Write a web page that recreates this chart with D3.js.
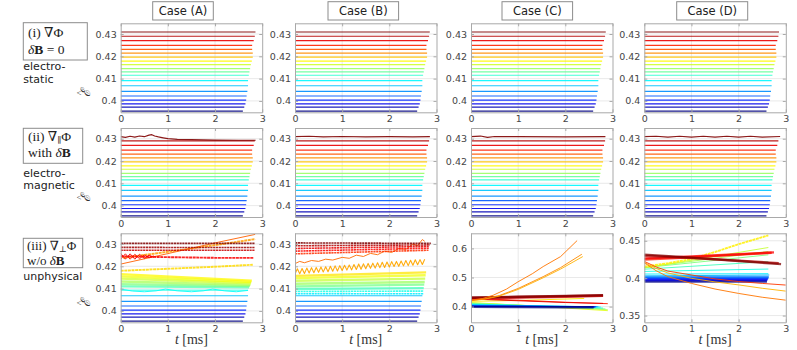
<!DOCTYPE html>
<html><head><meta charset="utf-8">
<script src="https://cdn.jsdelivr.net/npm/d3@7"></script>
<style>body{margin:0;background:#fff}svg{display:block}</style>
</head><body>
<svg id="c" width="797" height="350"></svg>
<script>
// ---------------- DATA ----------------
const caseLabels = ["Case (A)", "Case (B)", "Case (C)", "Case (D)"];
const rowNotes = [["electro-", "static"], ["electro-", "magnetic"], ["unphysical"]];
const tTicks = [0, 1, 2, 3];
const yTicksAB = [0.40, 0.41, 0.42, 0.43];
const yTicksC = [0.4, 0.5, 0.6];
const yTicksD = [0.35, 0.4, 0.45];
const yDomAB = [0.3949, 0.4348];
const yDomC = [0.346, 0.652];
const yDomD = [0.341, 0.46];

// rows (i),(ii): flat energy levels (bottom -> top) and their end times
const levelE = [0.3954,0.3972,0.3987,0.4004,0.4022,0.4043,0.4068,0.4091,0.4115,0.4130,
                0.4145,0.4163,0.4178,0.4196,0.4214,0.4231,0.4249,0.4270,0.4290,0.4309];
const levelTEnd = [2.59,2.62,2.645,2.66,2.67,2.686,2.70,2.70,2.716,2.73,
                   2.744,2.76,2.78,2.80,2.80,2.787,2.787,2.82,2.843,2.857];

// row (ii): top level is noisy
const r2Top = [
  [[0,0.4309],[0.1,0.4306],[0.2,0.4311],[0.3,0.4307],[0.4,0.4312],[0.5,0.4309],[0.6,0.4316],[0.66,0.4318],[0.72,0.4312],[0.8,0.4308],[0.9,0.4304],[1.0,0.4300],[1.2,0.4297],[1.5,0.4296],[2.0,0.4294],[2.5,0.4293],[2.86,0.4293]],
  [[0,0.4309],[0.3,0.4311],[0.6,0.4308],[1,0.4310],[1.5,0.4308],[2,0.4309],[2.5,0.4308],[2.86,0.4309]],
  [[0,0.4309],[0.2,0.4312],[0.35,0.4306],[0.5,0.4310],[1,0.4309],[2,0.4308],[2.85,0.4309]],
  [[0,0.4309],[0.25,0.4311],[0.5,0.4307],[0.75,0.4311],[1,0.4307],[1.25,0.4311],[1.5,0.4307],[1.75,0.4311],[2,0.4307],[2.25,0.4311],[2.5,0.4307],[2.88,0.4310]]
];

// row (iii), case B: strongly oscillating orange line, sampled every 0.05 ms
const zigB_t0 = 0, zigB_dt = 0.05;
const zigB_E = [0.4165,0.4189,0.4167,0.4190,0.4168,0.4192,0.4170,0.4194,0.4171,0.4195,0.4173,0.4197,0.4175,0.4198,
  0.4176,0.4200,0.4178,0.4202,0.4179,0.4203,0.4181,0.4205,0.4183,0.4206,0.4184,0.4208,0.4186,0.4210,0.4187,0.4211,
  0.4189,0.4213,0.4191,0.4214,0.4192,0.4216,0.4194,0.4218,0.4195,0.4219,0.4197,0.4221,0.4199,0.4222,0.4200,0.4224,
  0.4202,0.4226,0.4203,0.4227,0.4205,0.4229,0.4207,0.4230,0.4208,0.4232];

// row (iii) curves: kind, colormap rank (initial energy rank), points [t, E]
const r3A = [
  {k:"line", rank:0.40, pts:[[0,0.4093],[2.7,0.4093]]},
  {k:"line", rank:0.38, pts:[[0,0.4098],[0.25,0.4089],[0.5,0.4086],[0.75,0.4090],[0.95,0.4098],[1.2,0.4090],[1.5,0.4086],[1.75,0.4090],[1.95,0.4098],[2.2,0.4090],[2.45,0.4086],[2.7,0.4092]]},
  {k:"band", rank:0.45, pts:[[0,0.4110],[2.72,0.4106]]},
  {k:"band", rank:0.50, pts:[[0,0.4120],[2.74,0.4111]]},
  {k:"band", rank:0.54, pts:[[0,0.4132],[2.75,0.4117]]},
  {k:"band", rank:0.58, pts:[[0,0.4145],[2.76,0.4124]]},
  {k:"band", rank:0.61, pts:[[0,0.4155],[2.77,0.4130]]},
  {k:"band", rank:0.63, pts:[[0,0.4165],[2.78,0.4136]]},
  {k:"zig",  rank:0.66, pts:[[0,0.4180],[1,0.4189],[2,0.4198],[2.8,0.4207]]},
  {k:"zig",  rank:0.72, pts:[[0.05,0.4238],[1,0.4265],[2,0.4295],[2.85,0.4322]]},
  {k:"line", rank:0.78, pts:[[0,0.4210],[1,0.4257],[2,0.4305],[2.85,0.4343]]},
  {k:"line", rank:0.88, pts:[[0,0.4258],[0.1,0.4232],[0.2,0.4256],[0.3,0.4232],[0.4,0.4254],[0.5,0.4235],[0.6,0.4250],[0.7,0.4240]]},
  {k:"line", rank:0.86, pts:[[0,0.4232],[0.1,0.4256],[0.2,0.4232],[0.3,0.4254],[0.4,0.4234],[0.5,0.4251],[0.6,0.4238],[0.7,0.4247]]},
  {k:"zig",  rank:0.88, pts:[[0,0.4245],[1,0.4241],[2,0.4238],[2.82,0.4238]]},
  {k:"dot",  rank:0.93, pts:[[0,0.4272],[2.85,0.4272]]},
  {k:"dot",  rank:0.97, pts:[[0,0.4285],[2.85,0.4284]]},
  {k:"dot",  rank:1.00, pts:[[0,0.4303],[2.85,0.4303]]}
];
const r3B = [
  {k:"dot",  rank:0.36, pts:[[0,0.4077],[2.72,0.4077]]},
  {k:"dot",  rank:0.40, pts:[[0,0.4087],[2.72,0.4089]]},
  {k:"band", rank:0.44, pts:[[0,0.4098],[2.73,0.4102]]},
  {k:"band", rank:0.49, pts:[[0,0.4110],[2.74,0.4118]]},
  {k:"band", rank:0.53, pts:[[0,0.4122],[2.75,0.4130]]},
  {k:"band", rank:0.57, pts:[[0,0.4135],[2.76,0.4145]]},
  {k:"band", rank:0.61, pts:[[0,0.4147],[2.77,0.4160]]},
  {k:"band", rank:0.65, pts:[[0,0.4157],[2.78,0.4173]]},
  {k:"zigx", rank:0.71, pts:zigB_E.map((e,i)=>[zigB_t0+i*zigB_dt, e])},
  {k:"line", rank:0.77, pts:[[0,0.4212],[0.1,0.4222],[0.2,0.4216],[0.35,0.4226],[0.5,0.4222],[0.65,0.4232],[0.8,0.4228],[1.0,0.4240],[1.15,0.4236],[1.3,0.4250],[1.45,0.4244],[1.6,0.4258],[1.75,0.4252],[1.9,0.4268],[2.05,0.4262],[2.2,0.4280],[2.35,0.4276],[2.5,0.4300],[2.6,0.4292],[2.7,0.4320],[2.75,0.4312]]},
  {k:"dot",  rank:0.83, pts:[[0,0.4256],[2.83,0.4272]]},
  {k:"dot",  rank:0.87, pts:[[0,0.4268],[2.84,0.4281]]},
  {k:"dot",  rank:0.90, pts:[[0,0.4280],[2.85,0.4289]]},
  {k:"dot",  rank:0.95, pts:[[0,0.4292],[2.86,0.4296]]},
  {k:"dot",  rank:1.00, pts:[[0,0.4305],[2.88,0.4303]]}
];
const r3C = [
  {k:"line", rank:0.60, pts:[[0,0.414],[1,0.405],[2,0.395],[2.9,0.386]]},
  {k:"line", rank:0.55, pts:[[0,0.4125],[1,0.405],[2,0.397],[2.9,0.389]]},
  {k:"line", rank:0.50, pts:[[0,0.411],[1,0.405],[2,0.398],[2.85,0.392]]},
  {k:"line", rank:0.42, pts:[[0,0.409],[1,0.404],[2,0.399],[2.8,0.395]]},
  {k:"line", rank:0.36, pts:[[0,0.4075],[1,0.404],[2,0.401],[2.75,0.3985]]},
  {k:"line", rank:0.30, pts:[[0,0.4055],[1,0.403],[2,0.401],[2.7,0.3995]]},
  {k:"line", rank:0.22, pts:[[0,0.4035],[1,0.402],[2,0.4005],[2.66,0.3995]]},
  {k:"line", rank:0.15, pts:[[0,0.4020],[1,0.401],[2,0.3998],[2.64,0.3990]]},
  {k:"line", rank:0.08, pts:[[0,0.4005],[1,0.3995],[2,0.3990],[2.62,0.3985]]},
  {k:"band", rank:0.00, pts:[[0,0.3990],[1,0.3985],[2,0.3980],[2.6,0.3975]]},
  {k:"line", rank:0.65, pts:[[0,0.418],[1,0.421],[2,0.426],[2.4,0.428]]},
  {k:"line", rank:0.85, pts:[[0,0.428],[1,0.422],[2,0.415],[2.9,0.410]]},
  {k:"line", rank:0.90, pts:[[0,0.426],[1,0.420],[2,0.414],[2.8,0.411]]},
  {k:"band", rank:0.92, pts:[[0,0.428],[1,0.431],[2,0.434],[2.8,0.437]]},
  {k:"band", rank:0.95, pts:[[0,0.430],[1,0.433],[2,0.436],[2.8,0.438]]},
  {k:"band", rank:1.00, pts:[[0,0.4315],[1,0.434],[2,0.437],[2.8,0.4395]]},
  {k:"line", rank:0.70, pts:[[0,0.420],[0.3,0.426],[0.6,0.436],[1.0,0.459],[1.53,0.499],[1.9,0.529],[2.37,0.572]]},
  {k:"line", rank:0.74, pts:[[0,0.421],[0.3,0.427],[0.6,0.438],[1.0,0.4624],[1.53,0.503],[1.9,0.534],[2.35,0.580]]},
  {k:"line", rank:0.76, pts:[[0,0.422],[0.25,0.428],[0.47,0.439],[0.75,0.460],[1.0,0.4855],[1.3,0.513],[1.53,0.5376],[1.9,0.572],[2.25,0.627]]}
];
const r3D = [
  {k:"band", rank:0.00, pts:[[0,0.3955],[2.6,0.3955]]},
  {k:"band", rank:0.06, pts:[[0,0.3970],[2.6,0.3970]]},
  {k:"band", rank:0.12, pts:[[0,0.3985],[2.62,0.3985]]},
  {k:"band", rank:0.18, pts:[[0,0.4000],[2.63,0.4000]]},
  {k:"band", rank:0.24, pts:[[0,0.4015],[2.64,0.4015]]},
  {k:"line", rank:0.30, pts:[[0,0.4030],[2.65,0.4043]]},
  {k:"line", rank:0.36, pts:[[0,0.4055],[2.63,0.4060]]},
  {k:"line", rank:0.40, pts:[[0,0.4090],[2.63,0.4122]]},
  {k:"line", rank:0.44, pts:[[0,0.4120],[2.63,0.4222]]},
  {k:"line", rank:0.50, pts:[[0,0.4140],[2.63,0.4312]]},
  {k:"line", rank:0.54, pts:[[0,0.4145],[2.63,0.4357]]},
  {k:"line", rank:0.57, pts:[[0,0.4135],[2.63,0.4410]]},
  {k:"zig",  rank:0.64, pts:[[0,0.4155],[0.5,0.4200],[1,0.4258],[1.5,0.4350],[2,0.4455],[2.63,0.4572]]},
  {k:"line", rank:0.70, pts:[[0,0.4210],[0.25,0.413],[0.5,0.407],[1,0.3998],[1.5,0.395],[2,0.391],[2.5,0.3865],[3,0.3827]]},
  {k:"line", rank:0.76, pts:[[0,0.4205],[0.25,0.410],[0.5,0.402],[1,0.393],[1.5,0.3855],[2,0.3796],[2.5,0.3745],[3,0.3706]]},
  {k:"line", rank:0.82, pts:[[0,0.4225],[0.25,0.415],[0.5,0.4095],[1,0.4043],[1.5,0.399],[2,0.3955],[2.5,0.393],[3,0.3908]]},
  {k:"band", rank:0.85, pts:[[0,0.4250],[1,0.428],[2,0.4315],[2.7,0.4340]]},
  {k:"band", rank:0.88, pts:[[0,0.4265],[1,0.429],[2,0.432],[2.75,0.4345]]},
  {k:"band", rank:0.95, pts:[[0,0.4300],[1,0.427],[2,0.4235],[2.85,0.4200]]},
  {k:"band", rank:1.00, pts:[[0,0.4315],[1,0.4275],[2,0.4230],[2.9,0.4188]]}
];
const r3Curves = [r3A, r3B, r3C, r3D];
const r3FlatCount = [7, 7, 0, 0]; // lowest flat levels kept in row (iii)

// ---------------- LAYOUT / STYLE ----------------
const colX = [120.7, 295, 471, 644.3], W = 141.5;
const rowY = [23.3, 128, 233.3], H = 89;
const SANS = "'DejaVu Sans', sans-serif";
const SERIF = "'Liberation Serif', 'DejaVu Serif', serif";
const kindStyle = {
  flat: {w:1.2, op:0.9, dash:null},
  line: {w:1.0, op:0.9, dash:null},
  band: {w:2.4, op:0.75, dash:null},
  zig:  {w:1.9, op:0.85, dash:"3 0.6"},
  zigx: {w:1.1, op:0.95, dash:null},
  dot:  {w:1.6, op:0.85, dash:"2.2 0.6"}
};
function jet(v){
  const f = x => Math.max(0, Math.min(1, 1.5 - Math.abs(x)));
  return d3.rgb(f(4*v-3)*255, f(4*v-2)*255, f(4*v-1)*255).toString();
}

const svg = d3.select("#c");
svg.append("rect").attr("width",797).attr("height",350).attr("fill","#fff");
let clipId = 0;

for (let r = 0; r < 3; r++) {
  for (let c = 0; c < 4; c++) {
    const x0 = colX[c], y0 = rowY[r];
    const dom = (r < 2 || c < 2) ? yDomAB : (c === 2 ? yDomC : yDomD);
    const yt = (r < 2 || c < 2) ? yTicksAB : (c === 2 ? yTicksC : yTicksD);
    const xs = d3.scaleLinear().domain([0,3]).range([x0, x0+W]);
    const ys = d3.scaleLinear().domain(dom).range([y0+H, y0]);
    const g = svg.append("g");
    const id = "clip" + (clipId++);
    g.append("clipPath").attr("id", id).append("rect")
      .attr("x", x0).attr("y", y0).attr("width", W).attr("height", H);
    // grid
    const grid = g.append("g").attr("stroke", "#e3e3e3").attr("stroke-width", 0.8);
    tTicks.filter(t => t > 0 && t < 3).forEach(t =>
      grid.append("line").attr("x1", xs(t)).attr("x2", xs(t)).attr("y1", y0).attr("y2", y0+H));
    yt.forEach(v =>
      grid.append("line").attr("x1", x0).attr("x2", x0+W).attr("y1", ys(v)).attr("y2", ys(v)));
    // curves
    const line = d3.line().x(d => xs(d[0])).y(d => ys(d[1]));
    const curves = [];
    const nFlat = r < 2 ? levelE.length : r3FlatCount[c];
    for (let i = 0; i < nFlat; i++) {
      let pts = [[0, levelE[i]], [levelTEnd[i], levelE[i]]];
      if (r === 1 && i === levelE.length - 1) pts = r2Top[c];
      curves.push({k:"flat", rank: i/(levelE.length-1), pts});
    }
    if (r === 2) curves.push(...r3Curves[c]);
    const lg = g.append("g").attr("clip-path", `url(#${id})`).attr("fill", "none");
    curves.forEach(cv => {
      const st = kindStyle[cv.k];
      lg.append("path").attr("d", line(cv.pts))
        .attr("stroke", jet(cv.rank)).attr("stroke-width", st.w)
        .attr("stroke-opacity", st.op)
        .attr("stroke-dasharray", st.dash)
        .attr("stroke-linejoin", "round");
    });
    // axes
    const ax = g.append("g").attr("font-family", SANS);
    const styleAxis = sel => {
      sel.attr("font-size", 9.5).attr("font-family", SANS);
      sel.select(".domain").attr("stroke", "#a9a9a9");
      sel.selectAll(".tick line").attr("stroke", "#a9a9a9");
      sel.selectAll(".tick text").attr("fill", "#454545");
    };
    ax.append("g").attr("transform", `translate(0,${y0+H})`)
      .call(d3.axisBottom(xs).tickValues(tTicks).tickSize(-3).tickSizeOuter(0).tickPadding(3).tickFormat(d3.format("d")))
      .call(styleAxis);
    ax.append("g").attr("transform", `translate(0,${y0})`)
      .call(d3.axisTop(xs).tickValues(tTicks).tickSize(-3).tickSizeOuter(0).tickFormat(""))
      .call(styleAxis);
    ax.append("g").attr("transform", `translate(${x0},0)`)
      .call(d3.axisLeft(ys).tickValues(yt).tickSize(-3).tickSizeOuter(0).tickPadding(4).tickFormat(d => String(+d.toFixed(2))))
      .call(styleAxis);
    ax.append("g").attr("transform", `translate(${x0+W},0)`)
      .call(d3.axisRight(ys).tickValues(yt).tickSize(-3).tickSizeOuter(0).tickFormat(""))
      .call(styleAxis);

    if (r === 2) {
      const tl = svg.append("text").attr("x", x0 + W/2).attr("y", 344)
        .attr("text-anchor", "middle").attr("font-family", SERIF).attr("font-size", 14).attr("fill", "#333");
      tl.append("tspan").attr("font-style", "italic").text("t");
      tl.append("tspan").text(" [ms]");
    }
  }
}

// case title boxes
const caseBox = [[152.7, 60.6], [328, 70.6], [502, 70.6], [676.7, 71]];
caseLabels.forEach((lab, c) => {
  const [bx, bw] = caseBox[c];
  svg.append("rect").attr("x", bx).attr("y", 1.7).attr("width", bw).attr("height", 18.3)
    .attr("fill", "#fff").attr("stroke", "#8c8c8c").attr("stroke-width", 1);
  svg.append("text").attr("x", bx + bw/2).attr("y", 15).attr("text-anchor", "middle")
    .attr("font-family", SANS).attr("font-size", 11.5).attr("fill", "#222").text(lab);
});

// row annotation boxes
const noteBox = [[23.3, 22.7, 64, 37.3], [23.3, 128.3, 59.4, 35], [23.3, 238.3, 59.4, 29.4]];
noteBox.forEach(([bx, by, bw, bh]) => {
  svg.append("rect").attr("x", bx).attr("y", by).attr("width", bw).attr("height", bh)
    .attr("fill", "#fff").attr("stroke", "#8c8c8c").attr("stroke-width", 1);
});
function mathText(x, y, parts, fs) {
  const t = svg.append("text").attr("x", x).attr("y", y).attr("font-family", SERIF)
    .attr("font-size", fs).attr("fill", "#222");
  parts.forEach(p => {
    const s = t.append("tspan").text(p.s);
    if (p.b) s.attr("font-weight", "bold");
    if (p.i) s.attr("font-style", "italic");
    if (p.sub) s.attr("font-size", 8.5).attr("dy", 2);
    if (p.up) s.attr("dy", -2);
  });
}
mathText(28, 36.5, [{s:"(i) ∇Φ"}], 13.5);
mathText(28, 53.5, [{s:"δ", i:true}, {s:"B", b:true}, {s:" = 0"}], 13.5);
mathText(28, 141, [{s:"(ii) ∇"}, {s:"∥", sub:true}, {s:"Φ", up:true}], 13.5);
mathText(28, 157, [{s:"with "}, {s:"δ", i:true}, {s:"B", b:true}], 13.5);
mathText(27, 250, [{s:"(iii) ∇"}, {s:"⊥", sub:true}, {s:"Φ", up:true}], 13);
mathText(27, 264.5, [{s:"w/o "}, {s:"δ", i:true}, {s:"B", b:true}], 13);

const noteY = [[70, 82.5], [176.5, 188.5], [279.5]];
rowNotes.forEach((lines, r) => lines.forEach((s, j) => {
  svg.append("text").attr("x", 23.3).attr("y", noteY[r][j]).attr("font-family", SANS)
    .attr("font-size", 11).attr("fill", "#222").text(s);
}));

// y labels (E hat, rotated)
rowY.forEach(y0 => {
  const g = svg.append("g").attr("transform", `translate(90,${y0 + H/2 + 25}) rotate(-90)`);
  g.append("text").attr("text-anchor", "middle").attr("font-family", SERIF)
    .attr("font-style", "italic").attr("font-size", 13).attr("fill", "#333").text("ℰ");
  g.append("text").attr("text-anchor", "middle").attr("y", -7).attr("font-family", SERIF)
    .attr("font-size", 9).attr("fill", "#333").text("^");
});
</script>
</body></html>
